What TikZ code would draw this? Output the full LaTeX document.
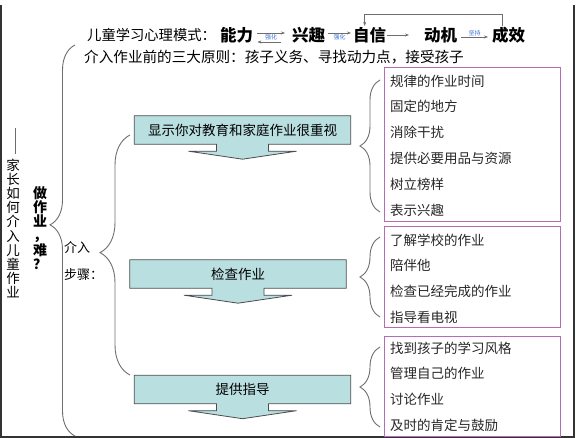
\documentclass[tikz,border=0pt]{standalone}
\usepackage{fontspec}
\setmainfont{Noto Sans CJK SC}
\usetikzlibrary{arrows.meta,calc,backgrounds,decorations.pathreplacing}
\definecolor{tealbox}{HTML}{B9DFE1}
\definecolor{plum}{HTML}{B56CB5}
\definecolor{hintblue}{HTML}{3A6FD8}
\definecolor{linegray}{HTML}{6E6E6E}

\begin{document}
\begin{tikzpicture}[x=1pt,y=-1pt,>={Stealth[length=4pt,width=3pt]},
  stepbox/.style={minimum width=216pt,minimum height=28pt,inner sep=0pt,
    font=\fontsize{13.5}{15}\selectfont},
  steppath/.style={draw=black!70,fill=tealbox,line width=0.8pt},
  listbox/.style={draw=plum,line width=1.1pt,minimum width=176pt,anchor=north west},
  listitem/.style={anchor=west,inner sep=0pt,font=\fontsize{13.5}{15}\selectfont,text=black!85},
  curly/.style={draw=linegray,line width=0.9pt,decorate,decoration={brace,amplitude=#1}},
  key/.style={anchor=west,inner sep=1pt,font=\fontsize{16.5}{18}\bfseries\selectfont},
  hint/.style={font=\fontsize{6}{6}\selectfont,text=hintblue,inner sep=0pt},
  link/.style={draw=linegray,line width=0.6pt,->}]
  \useasboundingbox (0,0) rectangle (576,438);
  \draw[line width=1.6pt,black!80] (1,5) -- (1,437) -- (574,437) -- (574,5);

  % title column
  \node[rotate=-90,inner sep=0pt,font=\fontsize{14}{14}\selectfont\addfontfeature{RawFeature=+fwid}]
    (dash) at (13,142) {——};
  \node[align=center,text width=14pt,inner sep=0pt,font=\fontsize{13.5}{14.1}\selectfont]
    (title) at (13,228.5) {家\\长\\如\\何\\介\\入\\儿\\童\\作\\业};
  \node[align=center,text width=14pt,inner sep=0pt,font=\fontsize{14}{14}\bfseries\selectfont]
    (hard) at (40,228) {做\\作\\业\\，\\难\\？};
  \draw[curly=25pt,decoration={aspect=0.54}] (75,436) -- (75,45);

  % top rows
  \node[anchor=west,inner sep=0pt,font=\fontsize{14.3}{15}\selectfont] (model) at (87,35) {儿童学习心理模式：};
  \node[key] (ability) at (219,35) {能力};
  \node[key] (interest) at (291,35) {兴趣};
  \node[key] (confidence) at (352,35) {自信};
  \node[key] (motive) at (423,35) {动机};
  \node[key] (result) at (491,35) {成效};
  \node[anchor=west,inner sep=0pt,font=\fontsize{14.6}{15}\selectfont] (rules) at (84,57)
    {介入作业前的三大原则：孩子义务、寻找动力点，接受孩子};

  \draw[link] ($(ability.east)+(3,-2)$) -- ($(interest.west)+(-6,-2)$)
    node[midway,below=1pt,hint]{强化};
  \draw[link] ($(interest.west)+(-10,7)$) -- ($(ability.east)+(3,7)$);
  \draw[link] ($(interest.east)+(2,-2)$) -- ($(confidence.west)+(-1,-2)$)
    node[midway,below=1pt,hint]{强化};
  \draw[link,shorten >=14pt] (confidence.east) -- (motive.west);
  \draw[link] ($(motive.east)+(3,2)$) -- ($(result.west)+(-3,2)$)
    node[midway,above=0.5pt,hint]{坚持};
  \coordinate (looptop) at (0,14);
  \coordinate (loopend) at ($(result.north)+(-6,0)$);
  \coordinate (loopin) at ($(confidence.north)+(-5,0)$);
  \draw[link] (loopend) -- (loopend |- looptop) -- (loopin |- looptop) -- (loopin);

  % steps
  \node[anchor=west,align=left,inner sep=0pt,font=\fontsize{13}{27}\selectfont] (steps) at (64,261)
    {介入\\步骤：};
  \draw[curly=30pt,decoration={aspect=0.51}] (130,375) -- (130,135);

  \node[stepbox] (show) at (242.5,130) {显示你对教育和家庭作业很重视};
  \node[stepbox] (check) at (238,274) {检查作业};
  \node[stepbox] (guide) at (242.5,389.5) {提供指导};
  \begin{scope}[on background layer]
    \foreach \n in {show,check,guide}
      \draw[steppath] (\n.north west) -- (\n.north east) -- (\n.south east)
        -- ($(\n.south)+(26,0)$) -- ++(0,7) -- ++(28,0) -- ($(\n.south)+(0,15)$)
        -- ($(\n.south)+(-54,7)$) -- ++(28,0) -- ($(\n.south)+(-26,0)$)
        -- (\n.south west) -- cycle;
  \end{scope}

  % lists
  \draw[curly=20pt] (380,212) -- (380,80);
  \draw[curly=20pt] (380,317) -- (380,237);
  \draw[curly=20pt] (380,427) -- (380,347);

  \node[listbox,minimum height=154pt] (habits) at (384,67) {};
  \foreach \t [count=\i] in {规律的作业时间,固定的地方,消除干扰,提供必要用品与资源,树立榜样,表示兴趣}
    \node[listitem] at ($(habits.north west)+(6,14+25.8*\i-25.8)$) {\t};
  \node[listbox,minimum height=101pt] (checks) at (384,226) {};
  \foreach \t [count=\i] in {了解学校的作业,陪伴他,检查已经完成的作业,指导看电视}
    \node[listitem] at ($(checks.north west)+(6,14+25.7*\i-25.7)$) {\t};
  \node[listbox,minimum height=100pt] (guides) at (384,336) {};
  \foreach \t [count=\i] in {找到孩子的学习风格,管理自己的作业,讨论作业,及时的肯定与鼓励}
    \node[listitem] at ($(guides.north west)+(6,12+25.7*\i-25.7)$) {\t};
\end{tikzpicture}
\end{document}
